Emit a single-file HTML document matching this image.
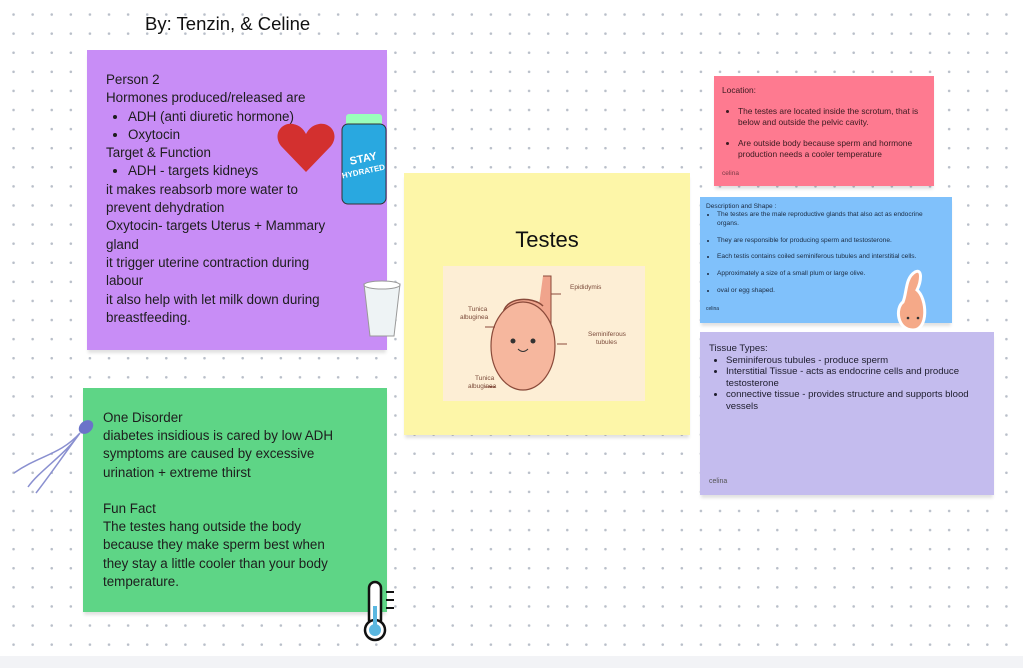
<!DOCTYPE html>
<html><head><meta charset="utf-8"><style>
body{margin:0;width:1023px;height:668px;overflow:hidden;position:relative;font-family:"Liberation Sans",sans-serif;
background-color:#fff;background-image:radial-gradient(circle,#b9bfc9 1.1px,transparent 1.5px);background-size:19.1px 19.1px;background-position:4px 5px;}
.b{position:absolute;box-shadow:0 4px 3px -1px rgba(0,0,0,.12);}
.t{position:absolute;color:#222;}
ul{margin:0;padding-left:22px;}
.s ul{padding-left:16px}
</style></head><body>
<div class="t" style="left:145px;top:13px;font-size:18.5px;color:#111">By: Tenzin, &amp; Celine</div>

<div class="b" style="left:87px;top:50px;width:300px;height:300px;background:#c88df6"></div>
<div class="t" style="left:106px;top:71px;font-size:13.4px;line-height:18.3px;width:240px;color:#1d1d1d">
Person 2<br>Hormones produced/released are
<ul><li>ADH (anti diuretic hormone)</li><li>Oxytocin</li></ul>
Target &amp; Function
<ul><li>ADH - targets kidneys</li></ul>
it makes reabsorb more water to prevent dehydration<br>
Oxytocin- targets Uterus + Mammary gland<br>
it trigger uterine contraction during labour<br>
it also help with let milk down during breastfeeding.</div>
<svg style="position:absolute;left:276px;top:122px" width="60" height="52"><path d="M30 50 L5 24 C-4 12 6 0 17 2 C24 3 28 8 30 12 C32 8 36 3 43 2 C54 0 64 12 55 24 Z" fill="#d3302f"/></svg>
<svg style="position:absolute;left:340px;top:114px" width="50" height="92"><rect x="6" y="0" width="36" height="12" rx="3" fill="#9fb"/><rect x="2" y="10" width="44" height="80" rx="6" fill="#29a8e0" stroke="#333"/><text x="24" y="48" font-size="11" font-weight="bold" fill="#fff" text-anchor="middle" transform="rotate(-12 24 48)" font-family="Liberation Sans">STAY</text><text x="24" y="60" font-size="8" font-weight="bold" fill="#fff" text-anchor="middle" transform="rotate(-12 24 60)" font-family="Liberation Sans">HYDRATED</text></svg>
<svg style="position:absolute;left:360px;top:278px" width="44" height="62"><path d="M4 6 L40 6 L34 58 L10 58 Z" fill="#eef3f5" stroke="#999"/><ellipse cx="22" cy="7" rx="18" ry="4" fill="#fff" stroke="#999"/></svg>

<div class="b" style="left:83px;top:388px;width:304px;height:224px;background:#5ed586"></div>
<div class="t" style="left:103px;top:409px;font-size:13.4px;line-height:18.2px;width:275px;color:#1d1d1d;white-space:nowrap">
One Disorder<br>diabetes insidious is cared by low ADH<br>symptoms are caused by excessive<br>urination + extreme thirst<br><br>Fun Fact<br>The testes hang outside the body<br>because they make sperm best when<br>they stay a little cooler than your body<br>temperature.</div>
<svg style="position:absolute;left:10px;top:415px" width="90" height="85"><ellipse cx="76" cy="12" rx="8" ry="6" fill="#6b73c9" transform="rotate(-40 76 12)"/><path d="M70 18 C50 40 30 40 4 58 M70 18 C50 45 40 60 26 78 M70 18 C55 40 30 55 18 72" stroke="#8a90d0" fill="none" stroke-width="1.5"/></svg>
<svg style="position:absolute;left:362px;top:580px" width="40" height="64"><rect x="7" y="2" width="12" height="44" rx="6" fill="#fff" stroke="#111" stroke-width="2.5"/><circle cx="13" cy="50" r="10" fill="#fff" stroke="#111" stroke-width="2.5"/><circle cx="13" cy="50" r="6" fill="#5ab7e0"/><rect x="11" y="26" width="4" height="20" fill="#5ab7e0"/><path d="M24 12h8M24 20h8M24 28h8" stroke="#111" stroke-width="2"/></svg>

<div class="b" style="left:404px;top:173px;width:286px;height:262px;background:#fdf6a8"></div>
<div class="t" style="left:404px;top:227px;width:286px;text-align:center;font-size:22px;color:#111">Testes</div>
<div style="position:absolute;left:443px;top:266px;width:202px;height:135px;background:#fdeed5"></div>
<svg style="position:absolute;left:443px;top:266px" width="202" height="135" font-family="Liberation Sans" font-size="6.5" fill="#7a4a3a">
<path d="M100 10 L108 10 L108 75 C108 110 95 120 85 120" fill="#f0a48c" stroke="#8a4a3a"/>
<path d="M60 50 C60 30 90 30 100 40" fill="#f2a890" stroke="#8a4a3a" stroke-width="1.5"/>
<ellipse cx="80" cy="80" rx="32" ry="44" fill="#f6b79e" stroke="#8a4a3a" stroke-width="1.2"/>
<circle cx="70" cy="75" r="2.5" fill="#333"/><circle cx="90" cy="75" r="2.5" fill="#333"/><path d="M75 83 Q80 88 85 83" stroke="#333" fill="none"/>
<path d="M108 28h10M114 78h10M42 61h10M42 121h10" stroke="#8a4a3a"/>
<text x="127" y="23">Epididymis</text><text x="145" y="70">Seminiferous</text><text x="153" y="78">tubules</text>
<text x="25" y="45">Tunica</text><text x="17" y="53">albuginea</text><text x="32" y="114">Tunica</text><text x="25" y="122">albuginea</text></svg>

<div class="b" style="left:714px;top:76px;width:220px;height:110px;background:#fe7a90"></div>
<div class="t s" style="left:722px;top:85px;width:200px;font-size:8.4px;line-height:10.8px;color:#3a1a20">Location:<ul style="margin-top:10px"><li>The testes are located inside the scrotum, that is below and outside the pelvic cavity.<br><br></li><li>Are outside body because sperm and hormone production needs a cooler temperature</li></ul><div style="margin-top:9px;font-size:6.5px;color:#7a3a45">celina</div></div>

<div class="b" style="left:700px;top:197px;width:252px;height:126px;background:#80c1fb"></div>
<div class="t s" style="left:706px;top:203px;width:240px;font-size:6.6px;line-height:8.4px;color:#1a2a40">Description and Shape :<ul style="padding-left:11px"><li>The testes are the male reproductive glands that also act as endocrine organs.<br><br></li><li>They are responsible for producing sperm and testosterone.<br><br></li><li>Each testis contains coiled seminiferous tubules and interstitial cells.<br><br></li><li>Approximately a size of  a small plum or large olive.<br><br></li><li>oval or egg shaped.</li></ul><div style="margin-top:10px;font-size:5px">celina</div></div>
<svg style="position:absolute;left:893px;top:268px" width="40" height="64"><path d="M20 62 C4 62 2 40 10 34 C14 25 12 10 22 4 C30 0 28 14 24 22 C34 30 36 62 20 62Z" fill="#f5a988" stroke="#fff" stroke-width="3"/><circle cx="15" cy="50" r="1.3" fill="#333"/><circle cx="25" cy="50" r="1.3" fill="#333"/></svg>

<div class="b" style="left:700px;top:332px;width:294px;height:163px;background:#c4bcee"></div>
<div class="t" style="left:709px;top:343px;width:268px;font-size:9.6px;line-height:11.6px;color:#1d1d2d">Tissue Types:<ul style="padding-left:17px"><li>Seminiferous tubules - produce sperm</li><li>Interstitial Tissue - acts as endocrine cells and produce testosterone</li><li>connective tissue - provides structure and supports blood vessels</li></ul></div>
<div class="t" style="left:709px;top:478px;font-size:7px;color:#555">celina</div>

<div style="position:absolute;left:0;top:656px;width:1023px;height:12px;background:#f2f3f6"></div>
</body></html>
